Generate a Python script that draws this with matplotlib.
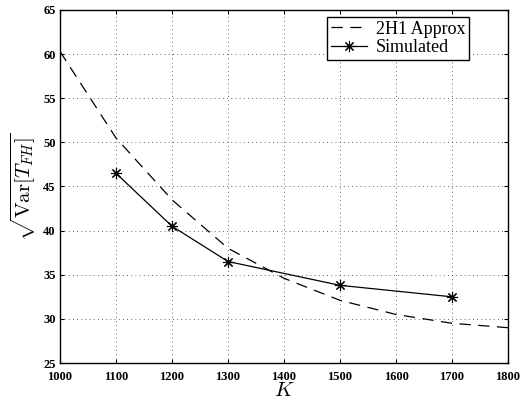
import matplotlib
matplotlib.use("Agg")
import matplotlib.pyplot as plt

plt.rcParams['mathtext.fontset'] = 'cm'
plt.rcParams['font.family'] = ['Liberation Serif', 'DejaVu Serif']

k_approx = [1000, 1100, 1200, 1300, 1400, 1500, 1600, 1700, 1800]
sd_approx = [60.3, 50.5, 43.5, 38.0, 34.6, 32.1, 30.5, 29.5, 29.0]

k_sim = [1100, 1200, 1300, 1500, 1700]
sd_sim = [46.5, 40.5, 36.5, 33.8, 32.5]

xticks = [1000, 1100, 1200, 1300, 1400, 1500, 1600, 1700, 1800]
yticks = [25, 30, 35, 40, 45, 50, 55, 60, 65]

fig = plt.figure(figsize=(5.21, 4.03), dpi=100)
ax = fig.add_axes([60/521, 1 - 363/403, 448/521, 353/403])

ax.plot(k_approx, sd_approx, 'k--', lw=0.9, dashes=(9, 6), label='2H1 Approx')
ax.plot(k_sim, sd_sim, 'k-', lw=0.9, marker=(8, 2, 0), markersize=8,
        markeredgewidth=0.8, label='Simulated')

ax.set_xlim(1000, 1800)
ax.set_ylim(25, 65)
ax.set_xticks(xticks)
ax.set_yticks(yticks)
ax.tick_params(direction='in', top=True, right=True, labelsize=9, length=3, pad=3)
ax.tick_params(axis='x', pad=6)
for lab in ax.get_xticklabels() + ax.get_yticklabels():
    lab.set_fontweight('bold')
ax.grid(True, linestyle=(0, (1, 4)), color='#333333', lw=0.6)
for s in ax.spines.values():
    s.set_linewidth(1.0)

ax.set_xlabel(r'$K$', fontsize=15, labelpad=-1)
ax.set_ylabel(r'$\sqrt{\mathrm{Var}[T_{FH}]}$', fontsize=15, labelpad=4)

leg = ax.legend(loc='upper right', bbox_to_anchor=(0.913, 0.98), frameon=True,
                fancybox=False, edgecolor='black', framealpha=1,
                fontsize=13, handlelength=2.0, borderpad=0.2, labelspacing=0.1,
                handletextpad=0.5, borderaxespad=0)
leg.get_frame().set_linewidth(1.0)

fig.savefig('out.png', dpi=100)
